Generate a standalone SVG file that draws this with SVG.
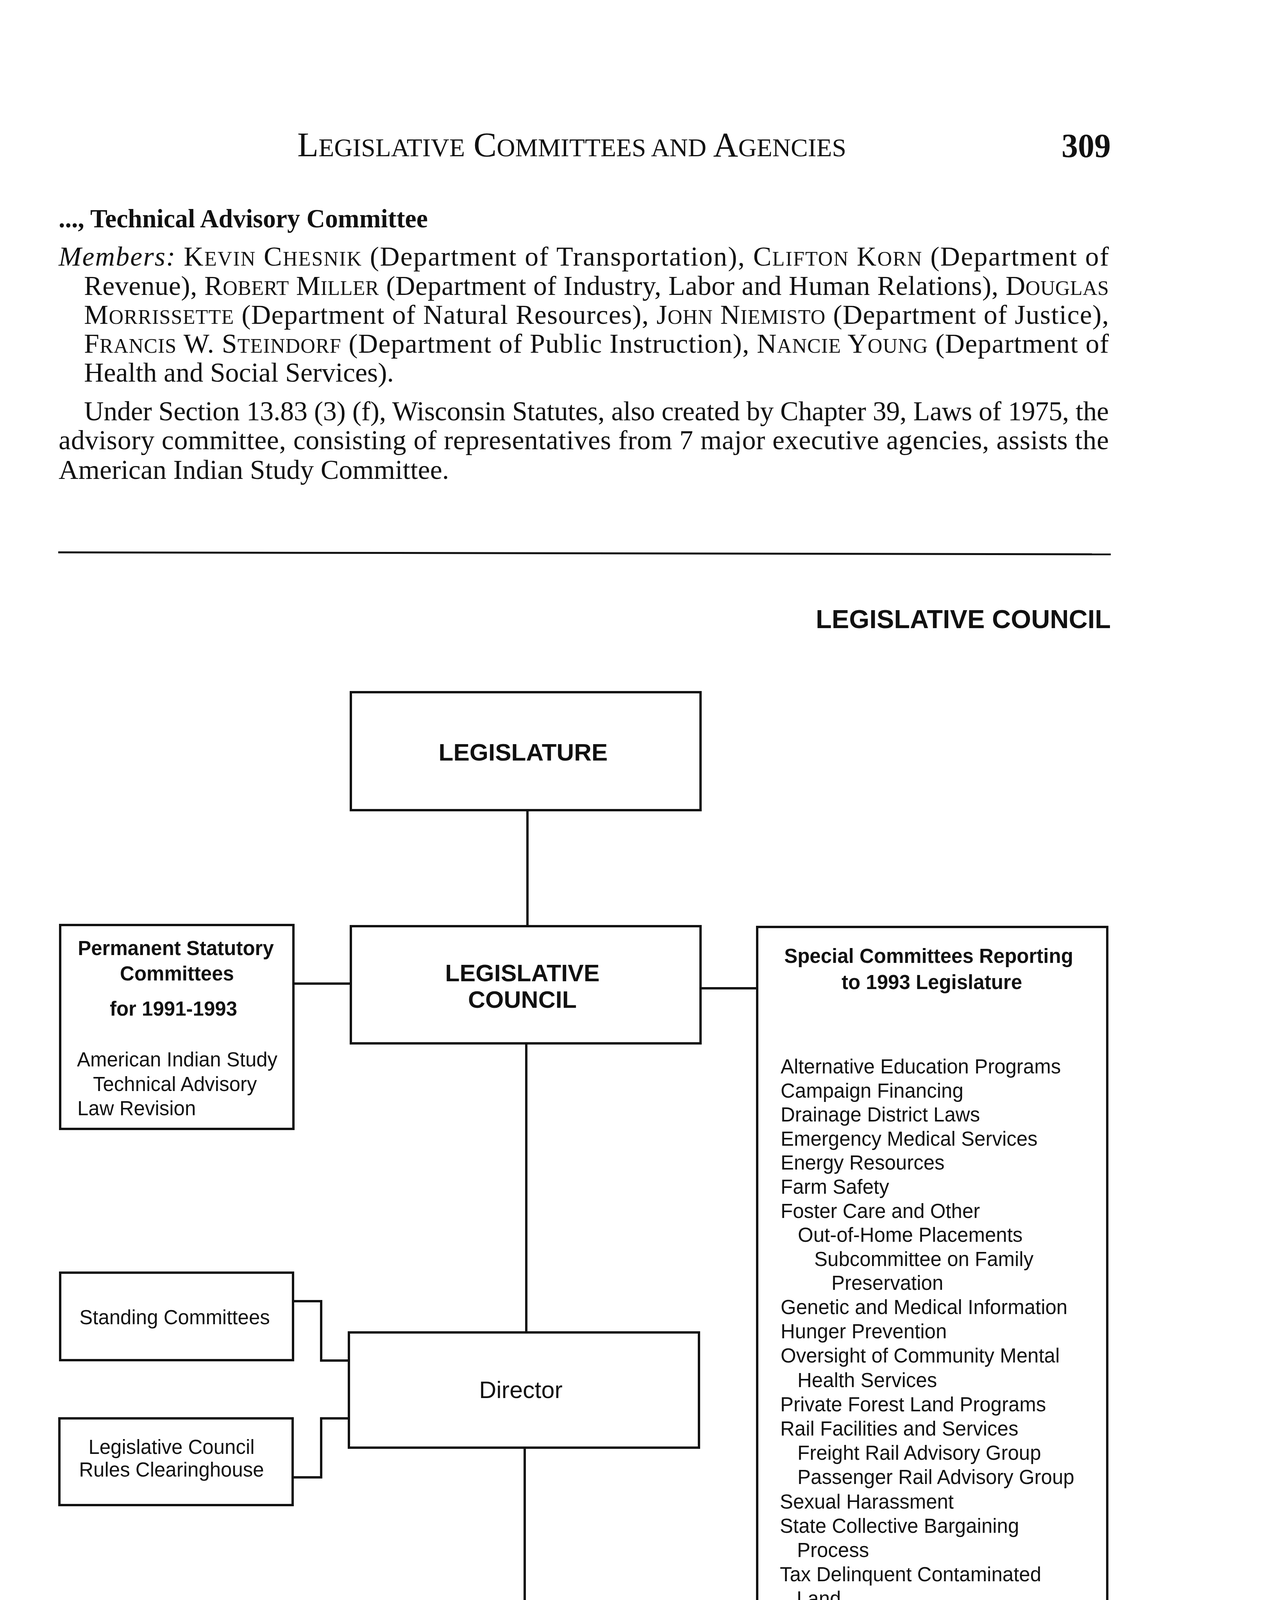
<svg xmlns="http://www.w3.org/2000/svg" width="3248" height="5220" viewBox="0 0 3248 5220">
<style>
.box{fill:none;stroke:#111;stroke-width:6}
.ln{fill:none;stroke:#111;stroke-width:6;stroke-linecap:square}
.ser{font-family:"Liberation Serif","Times New Roman",serif;fill:#111}
.sb{font-family:"Liberation Sans",Arial,sans-serif;font-weight:bold;fill:#111}
.sr{font-family:"Liberation Sans",Arial,sans-serif;fill:#111}
.p{font-size:70px}
.sc{font-size:52px}
.hsc{font-size:65px}
.t51{font-size:51px}
.t61{font-size:61px}
</style>
<rect x="0" y="0" width="3248" height="5220" fill="#fff"/>

<g id="page-header">
<text class="ser" x="761" y="400" font-size="88" textLength="1405" lengthAdjust="spacingAndGlyphs">L<tspan class="hsc">EGISLATIVE</tspan> C<tspan class="hsc">OMMITTEES AND</tspan> A<tspan class="hsc">GENCIES</tspan></text>
<text class="ser" x="2717" y="402" font-size="86" font-weight="bold" textLength="126" lengthAdjust="spacingAndGlyphs">309</text>
</g>

<g id="body-text">
<text class="ser" x="150" y="582" font-size="68" font-weight="bold" textLength="945" lengthAdjust="spacingAndGlyphs">..., Technical Advisory Committee</text>
<text class="ser p" x="150" y="680" textLength="2688" lengthAdjust="spacing"><tspan font-style="italic">Members:</tspan> K<tspan class="sc">EVIN</tspan> C<tspan class="sc">HESNIK</tspan> (Department of Transportation), C<tspan class="sc">LIFTON</tspan> K<tspan class="sc">ORN</tspan> (Department of</text>
<text class="ser p" x="215" y="755" textLength="2623" lengthAdjust="spacing">Revenue), R<tspan class="sc">OBERT</tspan> M<tspan class="sc">ILLER</tspan> (Department of Industry, Labor and Human Relations), D<tspan class="sc">OUGLAS</tspan></text>
<text class="ser p" x="215" y="829" textLength="2623" lengthAdjust="spacing">M<tspan class="sc">ORRISSETTE</tspan> (Department of Natural Resources), J<tspan class="sc">OHN</tspan> N<tspan class="sc">IEMISTO</tspan> (Department of Justice),</text>
<text class="ser p" x="215" y="903" textLength="2623" lengthAdjust="spacing">F<tspan class="sc">RANCIS</tspan> W. S<tspan class="sc">TEINDORF</tspan> (Department of Public Instruction), N<tspan class="sc">ANCIE</tspan> Y<tspan class="sc">OUNG</tspan> (Department of</text>
<text class="ser p" x="215" y="977">Health and Social Services).</text>
<text class="ser p" x="215" y="1076" textLength="2623" lengthAdjust="spacing">Under Section 13.83 (3) (f), Wisconsin Statutes, also created by Chapter 39, Laws of 1975, the</text>
<text class="ser p" x="150" y="1150" textLength="2688" lengthAdjust="spacing">advisory committee, consisting of representatives from 7 major executive agencies, assists the</text>
<text class="ser p" x="150" y="1226">American Indian Study Committee.</text>
</g>

<line x1="149" y1="1414" x2="2843" y2="1419" stroke="#111" stroke-width="5"/>

<text id="chart-title" class="sb" x="2088" y="1608" font-size="67" textLength="755" lengthAdjust="spacingAndGlyphs">LEGISLATIVE COUNCIL</text>

<g id="connectors">
<line class="ln" x1="1350" y1="2074" x2="1350" y2="2371"/>
<line class="ln" x1="751" y1="2518" x2="898" y2="2518"/>
<line class="ln" x1="1793" y1="2530" x2="1938" y2="2530"/>
<line class="ln" x1="1347" y1="2671" x2="1347" y2="3411"/>
<polyline class="ln" points="750,3331 822,3331 822,3483 893,3483"/>
<polyline class="ln" points="893,3631 822,3631 822,3782 749,3782"/>
<line class="ln" x1="1343" y1="3706" x2="1343" y2="4154"/>
</g>

<g id="legislature">
<rect class="box" x="898" y="1772" width="895" height="302"/>
<text class="sb" x="1339" y="1947" font-size="62" text-anchor="middle">LEGISLATURE</text>
</g>

<g id="legislative-council">
<rect class="box" x="898" y="2371" width="895" height="300"/>
<text class="sb t61" x="1337" y="2512" text-anchor="middle">LEGISLATIVE</text>
<text class="sb t61" x="1337" y="2580" text-anchor="middle">COUNCIL</text>
</g>

<g id="permanent-statutory">
<rect class="box" x="154" y="2368" width="597" height="522"/>
<text class="sb t51" x="450" y="2445" text-anchor="middle">Permanent Statutory</text>
<text class="sb t51" x="453" y="2510" text-anchor="middle">Committees</text>
<text class="sb t51" x="444" y="2600" text-anchor="middle">for 1991-1993</text>
<text class="sr t51" x="197" y="2730">American Indian Study</text>
<text class="sr t51" x="238" y="2793">Technical Advisory</text>
<text class="sr t51" x="198" y="2855">Law Revision</text>
</g>

<g id="special-committees">
<rect class="box" x="1938" y="2373" width="896" height="2137"/>
<text class="sb t51" x="2377" y="2465" text-anchor="middle">Special Committees Reporting</text>
<text class="sb t51" x="2385" y="2532" text-anchor="middle">to 1993 Legislature</text>
<g class="sr t51">
<text x="1998" y="2748">Alternative Education Programs</text>
<text x="1998" y="2810">Campaign Financing</text>
<text x="1998" y="2871">Drainage District Laws</text>
<text x="1998" y="2933">Emergency Medical Services</text>
<text x="1998" y="2994">Energy Resources</text>
<text x="1998" y="3056">Farm Safety</text>
<text x="1998" y="3118">Foster Care and Other</text>
<text x="2042" y="3179">Out-of-Home Placements</text>
<text x="2084" y="3241">Subcommittee on Family</text>
<text x="2128" y="3302">Preservation</text>
<text x="1998" y="3364">Genetic and Medical Information</text>
<text x="1998" y="3426">Hunger Prevention</text>
<text x="1998" y="3488">Oversight of Community Mental</text>
<text x="2041" y="3551">Health Services</text>
<text x="1997" y="3613">Private Forest Land Programs</text>
<text x="1997" y="3675">Rail Facilities and Services</text>
<text x="2041" y="3737">Freight Rail Advisory Group</text>
<text x="2041" y="3799">Passenger Rail Advisory Group</text>
<text x="1996" y="3862">Sexual Harassment</text>
<text x="1996" y="3924">State Collective Bargaining</text>
<text x="2040" y="3986">Process</text>
<text x="1996" y="4048">Tax Delinquent Contaminated</text>
<text x="2039" y="4110">Land</text>
<text x="1995" y="4173">Transportation Development</text>
<text x="1995" y="4235">Use of Public Waters</text>
<text x="1995" y="4297">Veterans Trust Fund</text>
<text x="1995" y="4359">Women Offenders in the</text>
<text x="2037" y="4421">Correctional System</text>
</g>
</g>

<g id="standing-committees">
<rect class="box" x="154" y="3258" width="596" height="224"/>
<text class="sr t51" x="447" y="3390" text-anchor="middle">Standing Committees</text>
</g>

<g id="rules-clearinghouse">
<rect class="box" x="152" y="3631" width="597" height="222"/>
<text class="sr t51" x="439" y="3722" text-anchor="middle">Legislative Council</text>
<text class="sr t51" x="439" y="3780" text-anchor="middle">Rules Clearinghouse</text>
</g>

<g id="director">
<rect class="box" x="893" y="3411" width="896" height="295"/>
<text class="sr t61" x="1333" y="3579" text-anchor="middle">Director</text>
</g>

<g id="staff">
<rect class="box" x="890" y="4154" width="896" height="298"/>
<text class="sr t51" x="1331" y="4318" text-anchor="middle">Staff</text>
</g>
</svg>
